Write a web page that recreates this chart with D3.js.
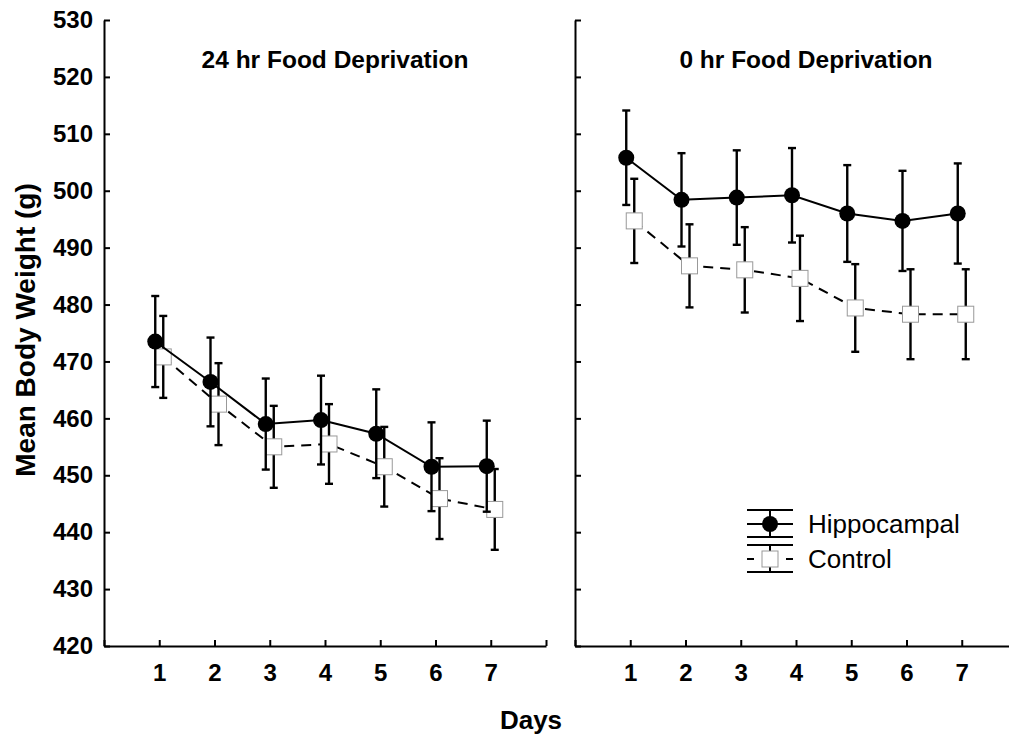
<!DOCTYPE html>
<html>
<head>
<meta charset="utf-8">
<script src="https://cdn.jsdelivr.net/npm/d3@7"></script>
<style>
  body { margin: 0; background: #fff; }
  svg { font-family: "Liberation Sans", Arial, sans-serif; }
  .axis path, .axis line { stroke: #000; stroke-width: 2px; }
  .axis text { font-size: 24px; font-weight: bold; fill: #000; }
</style>
</head>
<body>
<div class="chart"></div>
<script>
  // Data (mean body weight, g, and error bar half-length)
  const days = [1, 2, 3, 4, 5, 6, 7];
  const hippo24 = [473.5, 466.4, 459.0, 459.7, 457.3, 451.5, 451.6];
  const hippo24Err = [8.0, 7.8, 8.0, 7.8, 7.8, 7.8, 8.0];
  const ctrl24 = [470.8, 462.5, 455.0, 455.5, 451.5, 445.9, 444.0];
  const ctrl24Err = [7.2, 7.2, 7.2, 7.0, 7.0, 7.1, 7.1];
  const hippo0 = [505.8, 498.4, 498.8, 499.2, 496.0, 494.7, 496.0];
  const hippo0Err = [8.3, 8.2, 8.3, 8.3, 8.5, 8.8, 8.8];
  const ctrl0 = [494.7, 486.8, 486.1, 484.6, 479.4, 478.3, 478.3];
  const ctrl0Err = [7.4, 7.3, 7.5, 7.5, 7.7, 7.9, 7.9];
  const yDomain = [420, 530];
  const xDomain = [0, 8];
  const titles = ['24 hr Food Deprivation', '0 hr Food Deprivation'];
  const seriesNames = ['Hippocampal', 'Control'];

  const width = 1009;
  const height = 741;
  const plotTop = 20;
  const plotBottom = 646;
  const panelWidth = 442;
  const panelLefts = [104, 575];
  const dodge = 4;
  const capHalf = 4;
  const dash = '10,7';

  const svg = d3.select('.chart').append('svg')
      .attr('width', width)
      .attr('height', height);

  const yScale = d3.scaleLinear().domain(yDomain).range([plotBottom, plotTop]);

  function drawSeries(g, xScale, means, errs, isHippo) {
    const off = isHippo ? -dodge : dodge;
    const pts = days.map((d, i) => ({day: d, mean: means[i], err: errs[i]}));
    const sx = d => xScale(d.day) + off;

    g.append('path')
        .datum(pts)
        .attr('fill', 'none')
        .attr('stroke', '#000')
        .attr('stroke-width', 2)
        .attr('stroke-dasharray', isHippo ? null : dash)
        .attr('d', d3.line().x(sx).y(d => yScale(d.mean)));

    const bars = g.append('g')
        .attr('stroke', '#000')
        .attr('stroke-width', 2.4)
      .selectAll('g')
      .data(pts)
      .join('g');
    bars.append('line')
        .attr('x1', sx).attr('x2', sx)
        .attr('y1', d => yScale(d.mean + d.err))
        .attr('y2', d => yScale(d.mean - d.err));
    bars.append('line')
        .attr('x1', d => sx(d) - capHalf).attr('x2', d => sx(d) + capHalf)
        .attr('y1', d => yScale(d.mean + d.err))
        .attr('y2', d => yScale(d.mean + d.err));
    bars.append('line')
        .attr('x1', d => sx(d) - capHalf).attr('x2', d => sx(d) + capHalf)
        .attr('y1', d => yScale(d.mean - d.err))
        .attr('y2', d => yScale(d.mean - d.err));

    if (isHippo) {
      g.append('g').selectAll('circle')
        .data(pts)
        .join('circle')
          .attr('cx', sx)
          .attr('cy', d => yScale(d.mean))
          .attr('r', 8)
          .attr('fill', '#000');
    } else {
      g.append('g').selectAll('rect')
        .data(pts)
        .join('rect')
          .attr('x', d => sx(d) - 8)
          .attr('y', d => yScale(d.mean) - 8)
          .attr('width', 16)
          .attr('height', 16)
          .attr('fill', '#fff')
          .attr('stroke', '#999')
          .attr('stroke-width', 1);
    }
  }

  function drawPanel(idx, hMeans, hErrs, cMeans, cErrs) {
    const left = panelLefts[idx];
    const xScale = d3.scaleLinear().domain(xDomain).range([left, left + panelWidth]);
    const g = svg.append('g');

    g.append('g')
        .attr('class', 'axis axis--x')
        .attr('transform', `translate(0,${plotBottom})`)
        .call(d3.axisBottom(xScale)
          .tickValues(d3.range(xDomain[0], xDomain[1] + 1))
          .tickFormat(d => days.includes(d) ? d : '')
          .tickSizeInner(-6)
          .tickSizeOuter(0)
          .tickPadding(18));

    const yAxis = d3.axisLeft(yScale)
        .tickValues(d3.range(yDomain[0], yDomain[1] + 1, 10))
        .tickSizeInner(-6)
        .tickSizeOuter(0)
        .tickPadding(11);
    if (idx > 0) yAxis.tickFormat('');
    g.append('g')
        .attr('class', 'axis axis--y')
        .attr('transform', `translate(${left},0)`)
        .call(yAxis);

    g.append('text')
        .attr('x', xScale(4) + 10)
        .attr('y', 68)
        .attr('text-anchor', 'middle')
        .attr('font-size', 24.5)
        .attr('font-weight', 'bold')
        .text(titles[idx]);

    drawSeries(g, xScale, cMeans, cErrs, false);
    drawSeries(g, xScale, hMeans, hErrs, true);
  }

  drawPanel(0, hippo24, hippo24Err, ctrl24, ctrl24Err);
  drawPanel(1, hippo0, hippo0Err, ctrl0, ctrl0Err);

  // Axis titles
  svg.append('text')
      .attr('x', 531)
      .attr('y', 729)
      .attr('text-anchor', 'middle')
      .attr('font-size', 26)
      .attr('font-weight', 'bold')
      .text('Days');

  svg.append('text')
      .attr('transform', 'translate(35,330) rotate(-90)')
      .attr('text-anchor', 'middle')
      .attr('font-size', 28)
      .attr('font-weight', 'bold')
      .text('Mean Body Weight (g)');

  // Legend
  const legend = svg.append('g').attr('transform', 'translate(747,510)');
  const symW = 46;
  const cx = symW / 2;
  seriesNames.forEach((name, i) => {
    const row = legend.append('g').attr('transform', `translate(0,${i * 35})`);
    const ls = row.append('g').attr('stroke', '#000').attr('stroke-width', 2);
    ls.append('line').attr('x1', 0).attr('x2', symW).attr('y1', 0).attr('y2', 0);
    ls.append('line').attr('x1', 0).attr('x2', symW).attr('y1', 27).attr('y2', 27);
    ls.append('line').attr('x1', cx).attr('x2', cx).attr('y1', 0).attr('y2', 27);
    ls.append('line')
        .attr('x1', 0).attr('x2', symW).attr('y1', 14).attr('y2', 14)
        .attr('stroke-dasharray', i === 0 ? null : '7,32,7');
    if (i === 0) {
      row.append('circle').attr('cx', cx).attr('cy', 14).attr('r', 8).attr('fill', '#000');
    } else {
      row.append('rect')
          .attr('x', cx - 8).attr('y', 6).attr('width', 16).attr('height', 16)
          .attr('fill', '#fff').attr('stroke', '#999').attr('stroke-width', 1);
    }
    row.append('text')
        .attr('x', 61)
        .attr('y', 23)
        .attr('font-size', 26)
        .text(name);
  });
</script>
</body>
</html>
